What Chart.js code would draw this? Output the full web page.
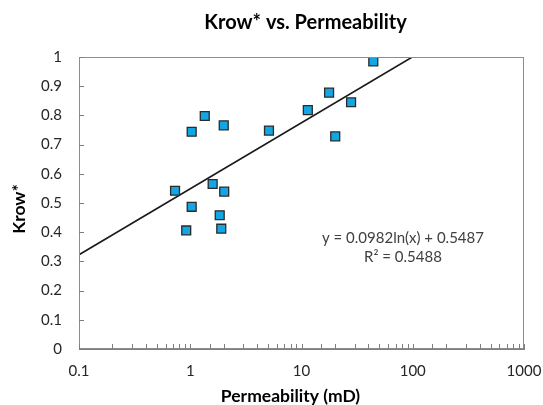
<!DOCTYPE html>
<html>
<head>
<meta charset="utf-8">
<script src="https://cdn.jsdelivr.net/npm/chart.js@4/dist/chart.umd.min.js"></script>
<style>
  html, body { margin: 0; padding: 0; background: #ffffff; }
  #wrap { width: 543px; height: 405px; position: relative; }
</style>
</head>
<body>
<div id="wrap"><canvas id="c" width="543" height="405"></canvas></div>
<script>
// ---- Data ----
const permeability = [0.73, 1.03, 1.35, 2.0, 5.1, 11.4, 17.7, 27.9, 20.1, 44.2, 1.59, 2.02, 1.03, 1.84, 1.90, 0.92];
const krowStar     = [0.542, 0.744, 0.798, 0.766, 0.748, 0.818, 0.878, 0.845, 0.728, 0.985, 0.565, 0.539, 0.487, 0.458, 0.412, 0.406];
// Trendline end points (logarithmic fit y = 0.0982 ln(x) + 0.5487, from x = 0.1 to where it leaves the plot)
const trendX = [0.1, 99.1];
const trendY = [0.3226, 1.0];
const yTicks = [0, 0.1, 0.2, 0.3, 0.4, 0.5, 0.6, 0.7, 0.8, 0.9, 1];
const xDecades = [0.1, 1, 10, 100, 1000];
const titleText = 'Krow* vs. Permeability';
const xTitle = 'Permeability (mD)';
const yTitle = 'Krow*';
const eqLines = ['y = 0.0982ln(x) + 0.5487', 'R\u00B2 = 0.5488'];

const FONT = 'Lato, "Open Sans", "Liberation Sans", sans-serif';

const scatterPts = permeability.map((x, i) => ({ x: x, y: krowStar[i] }));
const trendPts = trendX.map((x, i) => ({ x: x, y: trendY[i] }));

const decorPlugin = {
  id: 'decor',
  afterDatasetsDraw(chart) {
    const ctx = chart.ctx;
    const a = chart.chartArea;
    const xs = chart.scales.x, ys = chart.scales.y;
    ctx.save();
    ctx.strokeStyle = '#8c8c8c';
    ctx.lineWidth = 1;
    ctx.strokeRect(Math.round(a.left) + 0.5, Math.round(a.top) + 0.5,
                   Math.round(a.right - a.left) - 1, Math.round(a.bottom - a.top) - 1);
    ctx.strokeStyle = '#7f7f7f';
    ctx.beginPath();
    xs.ticks.forEach(t => {
      const px = Math.round(xs.getPixelForValue(t.value)) + 0.5;
      ctx.moveTo(px, a.bottom);
      ctx.lineTo(px, a.bottom - 5);
    });
    ys.ticks.forEach(t => {
      const py = Math.round(ys.getPixelForValue(t.value)) + 0.5;
      ctx.moveTo(a.left, py);
      ctx.lineTo(a.left + 5, py);
    });
    ctx.stroke();
    ctx.restore();
  },
  afterDraw(chart) {
    const ctx = chart.ctx;
    const a = chart.chartArea;
    ctx.save();
    ctx.fillStyle = '#000000';
    ctx.textAlign = 'center';
    ctx.textBaseline = 'middle';
    ctx.font = 'bold 20px ' + FONT;
    ctx.fillText(titleText, (a.left + a.right) / 2 + 4, 23);
    ctx.font = 'bold 17.5px ' + FONT;
    ctx.save();
    ctx.translate(19, (a.top + a.bottom) / 2 + 6);
    ctx.rotate(-Math.PI / 2);
    ctx.fillText(yTitle, 0, 0);
    ctx.restore();
    ctx.fillText(xTitle, (a.left + a.right) / 2 - 11, 396);
    ctx.font = '15px ' + FONT;
    ctx.fillStyle = '#404040';
    const ex = a.left + (a.right - a.left) * 0.728;
    ctx.fillText(eqLines[0], ex, 238);
    ctx.fillText(eqLines[1], ex, 257);
    ctx.restore();
  }
};

new Chart(document.getElementById('c'), {
  type: 'scatter',
  data: {
    datasets: [
      {
        label: 'Trend',
        type: 'line',
        data: trendPts,
        borderColor: '#1a1a1a',
        borderWidth: 1.6,
        pointRadius: 0,
        fill: false,
        tension: 0,
        order: 2
      },
      {
        label: 'Krow*',
        data: scatterPts,
        pointStyle: 'rect',
        pointRadius: 6.3,
        pointHoverRadius: 6.3,
        backgroundColor: '#12a7e4',
        borderColor: '#2a2a2a',
        borderWidth: 1.3,
        order: 1
      }
    ]
  },
  options: {
    responsive: false,
    animation: false,
    events: [],
    layout: { padding: { top: 57, right: 19, left: 0, bottom: 0 } },
    plugins: {
      legend: { display: false },
      title: { display: false },
      tooltip: { enabled: false }
    },
    scales: {
      x: {
        type: 'logarithmic',
        min: xDecades[0],
        max: xDecades[xDecades.length - 1],
        afterFit(s) { s.height = 56; s.paddingLeft = 0; s.paddingRight = 0; },
        grid: { display: false, drawTicks: false },
        border: { display: true, color: '#7f7f7f', width: 1 },
        ticks: {
          autoSkip: false,
          maxRotation: 0,
          padding: 13,
          color: '#262626',
          font: { family: FONT, size: 15 },
          callback(v) {
            const idx = xDecades.findIndex(d => Math.abs(d - v) / d < 1e-6);
            return idx >= 0 ? String(xDecades[idx]) : '';
          }
        }
      },
      y: {
        type: 'linear',
        min: yTicks[0],
        max: yTicks[yTicks.length - 1],
        afterFit(s) { s.width = 79; s.paddingTop = 0; s.paddingBottom = 0; },
        afterBuildTicks(s) { s.ticks = yTicks.map(v => ({ value: v })); },
        grid: { display: false, drawTicks: false },
        border: { display: true, color: '#7f7f7f', width: 1 },
        ticks: {
          padding: 17,
          color: '#262626',
          font: { family: FONT, size: 15 },
          callback(v) { return String(Math.round(v * 10) / 10); }
        }
      }
    }
  },
  plugins: [decorPlugin]
});
</script>
</body>
</html>
